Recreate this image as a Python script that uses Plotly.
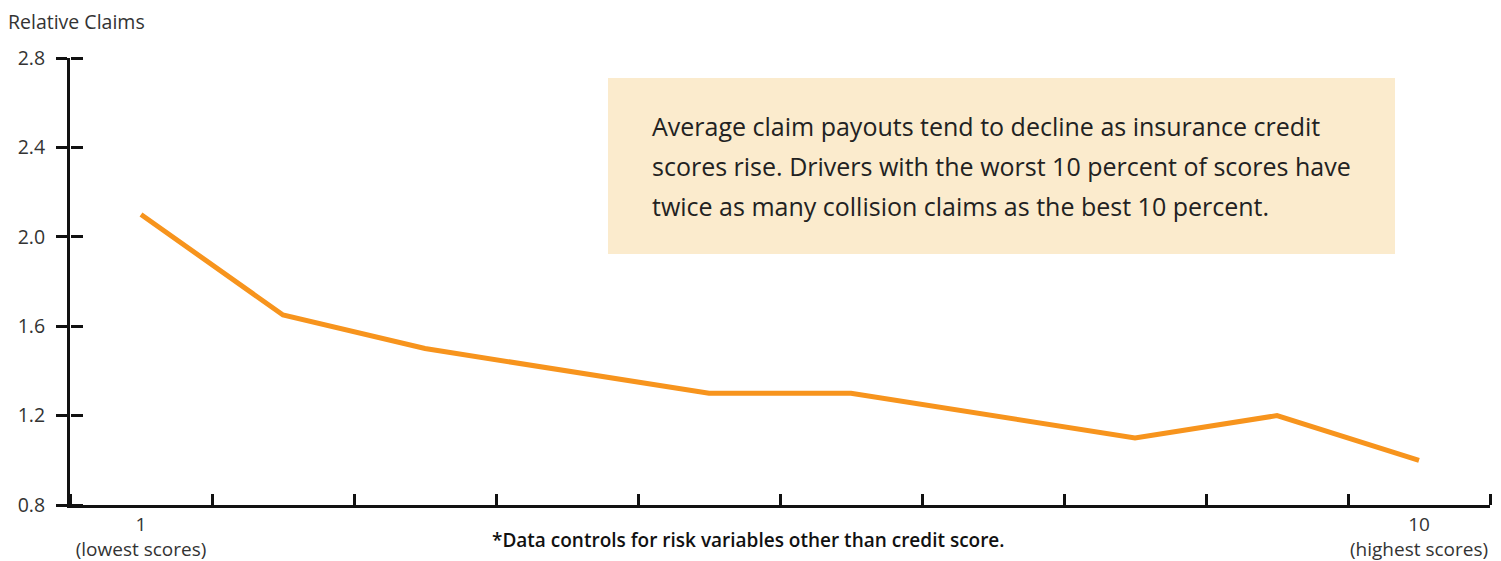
import plotly.graph_objects as go

deciles = [1, 2, 3, 4, 5, 6, 7, 8, 9, 10]
relative_claims = [2.1, 1.65, 1.5, 1.4, 1.3, 1.3, 1.2, 1.1, 1.2, 1.0]
x_tick_vals = [1, 10]
x_tick_text = ["1<br>(lowest scores)", "10<br>(highest scores)"]
y_tick_vals = [0.8, 1.2, 1.6, 2.0, 2.4, 2.8]
y_tick_text = ["0.8", "1.2", "1.6", "2.0", "2.4", "2.8"]
note_lines = [
    "Average claim payouts tend to decline as insurance credit",
    "scores rise. Drivers with the worst 10 percent of scores have",
    "twice as many collision claims as the best 10 percent.",
]

FONT = "Open Sans"
OFF = 8  # page body margin
W, H = 1501 - OFF, 561 - OFF
ML, MR, MT, MB = 70 - OFF, 11, 58 - OFF, 56
pw, ph = W - ML - MR, H - MT - MB

def px_x(x):
    return (x - OFF - ML) / pw

def px_y(y):
    return (H - MB - (y - OFF)) / ph

fig = go.Figure()
fig.add_trace(go.Scatter(
    x=deciles, y=relative_claims, mode="lines",
    line=dict(color="#F7941D", width=5), hoverinfo="skip", showlegend=False,
))
fig.add_trace(go.Scatter(
    x=deciles, y=relative_claims, mode="lines", yaxis="y2",
    line=dict(width=0.1, color="rgba(0,0,0,0)"), hoverinfo="skip", showlegend=False,
))

fig.update_layout(
    width=W, height=H,
    margin=dict(l=ML, r=MR, t=MT, b=MB, autoexpand=False),
    paper_bgcolor="white", plot_bgcolor="white",
    font=dict(family=FONT, color="#333333"),
    xaxis=dict(
        range=[0.5, 10.5], tickmode="array", tickvals=x_tick_vals, ticktext=x_tick_text,
        ticks="", showgrid=False, zeroline=False, showline=True, linecolor="#111111", linewidth=3,
        tickfont=dict(size=19, color="#333333"), ticklabelstandoff=0, automargin=False,
        minor=dict(tickmode="linear", tick0=0.5, dtick=1, ticks="inside", ticklen=11,
                   tickwidth=3, tickcolor="#111111", showgrid=False),
    ),
    yaxis=dict(
        range=[0.8, 2.8], tickmode="array", tickvals=y_tick_vals, ticktext=y_tick_text,
        ticks="outside", ticklen=11, tickwidth=3, tickcolor="#111111",
        showgrid=False, zeroline=False, showline=True, linecolor="#111111", linewidth=3,
        tickfont=dict(size=19.5, color="#333333"), ticklabelstandoff=7, automargin=False,
    ),
    yaxis2=dict(
        range=[0.8, 2.8], overlaying="y", side="right", anchor="free", position=0,
        tickmode="array", tickvals=y_tick_vals, showticklabels=False,
        ticks="outside", ticklen=12, tickwidth=3, tickcolor="#111111",
        showgrid=False, zeroline=False, showline=False, automargin=False,
    ),
)

fig.add_shape(type="rect", xref="paper", yref="paper",
              x0=px_x(608), x1=px_x(1395), y0=px_y(254), y1=px_y(78),
              fillcolor="#FBEBCD", line=dict(width=0), layer="below")

for i, line in enumerate(note_lines):
    fig.add_annotation(xref="paper", yref="paper", x=px_x(650), y=px_y(126 + 40 * i),
                       xanchor="left", yanchor="middle", showarrow=False,
                       text=line, font=dict(family=FONT, size=25, color="#222222"))

fig.add_annotation(xref="paper", yref="paper", x=px_x(6), y=px_y(22),
                   xanchor="left", yanchor="middle", showarrow=False,
                   text="Relative Claims", font=dict(family=FONT, size=19.5, color="#333333"))

fig.add_annotation(xref="paper", yref="paper", x=px_x(748), y=px_y(540),
                   xanchor="center", yanchor="middle", showarrow=False,
                   text="*Data controls for risk variables other than credit score.",
                   font=dict(family=FONT, size=19, weight=600, color="#111111"))

fig.write_html("out.html")
